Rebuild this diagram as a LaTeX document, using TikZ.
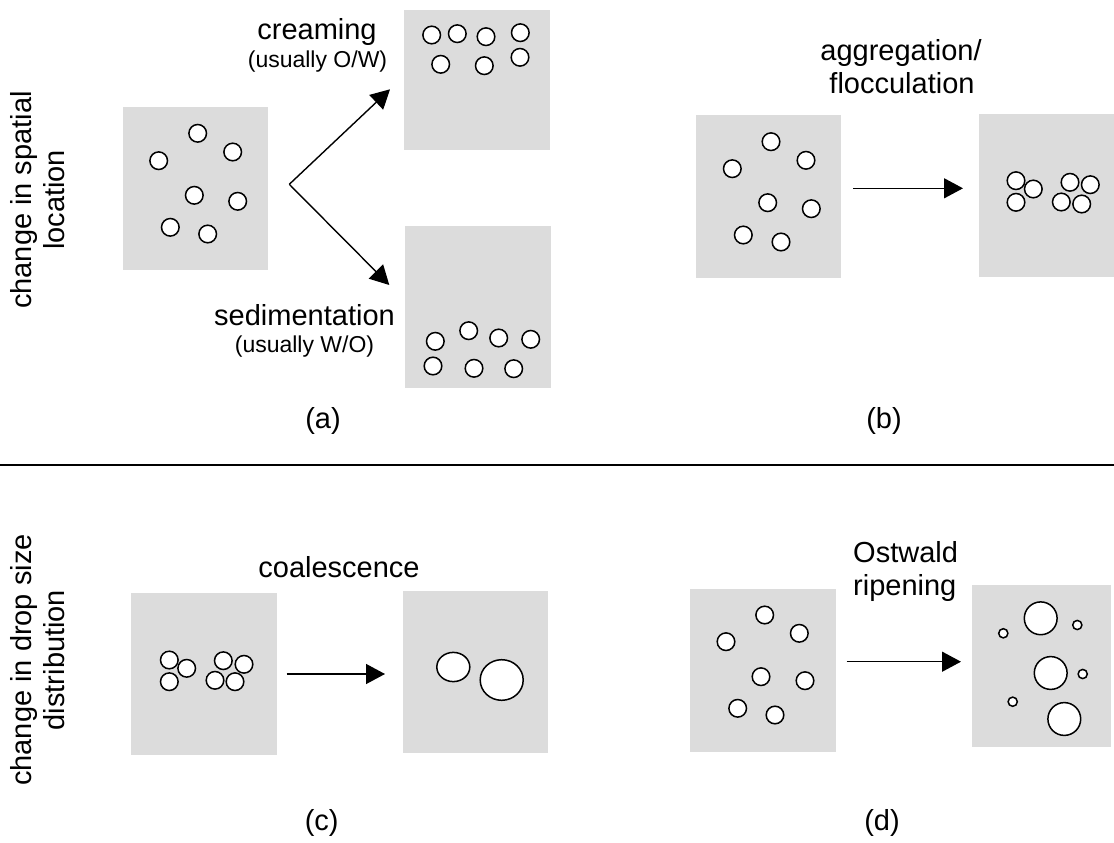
\documentclass[tikz,border=0pt]{standalone}
\usepackage{fontspec}
\setmainfont{Liberation Sans}
\usetikzlibrary{arrows.meta,shapes.geometric}
\definecolor{boxgray}{RGB}{220,220,220}
\tikzset{
  panel/.style={fill=boxgray, draw=none, inner sep=0pt, outer sep=0pt, anchor=north west},
  drop/.style={circle, draw=black, fill=white, line width=1.5pt, minimum size=17.6pt, inner sep=0pt},
  blob/.style={ellipse, draw=black, fill=white, line width=1.5pt, inner sep=0pt},
  bigtext/.style={font=\fontsize{29}{33}\selectfont, inner sep=0pt, anchor=base},
  smalltext/.style={font=\fontsize{23}{27}\selectfont, inner sep=0pt, anchor=base},
  sidetext/.style={font=\fontsize{29}{33}\selectfont, inner sep=0pt, rotate=90, align=center},
  flow/.style={line width=1.4pt, -{Triangle[length=19pt, width=20pt]}},
}
\begin{document}
\begin{tikzpicture}[x=1pt, y=-1pt]
\useasboundingbox (0,0) rectangle (1114,843);

% ---------- row labels ----------
\node[sidetext] (rowtop) at (38,200) {change in spatial\\location};
\node[sidetext] (rowbot) at (38,660) {change in drop size\\distribution};

% ---------- (a) creaming / sedimentation ----------
\node[panel, minimum width=145pt, minimum height=163pt] (a0) at (123,107) {};
\node[panel, minimum width=146pt, minimum height=140pt] (aup) at (404,10) {};
\node[panel, minimum width=146pt, minimum height=162pt] (adn) at (405,226) {};
\foreach \x/\y [count=\i] in {197.7/133.3, 232.7/152, 158.7/160.7, 194.3/195.3, 237.7/201.3, 170.3/227.3, 207.7/234}
  \node[drop] (a0d\i) at (\x,\y) {};
\foreach \x/\y [count=\i] in {431.7/35, 457.3/33.7, 486/36.7, 520.3/32.7, 440.7/64.3, 484.3/65.7, 520/57.3}
  \node[drop] (aupd\i) at (\x,\y) {};
\foreach \x/\y [count=\i] in {435.3/341.3, 468.7/330.7, 498.7/338, 530.7/339.3, 433/366, 474/368.3, 513.7/368.7}
  \node[drop] (adnd\i) at (\x,\y) {};
\coordinate (fork) at (289.3,184.3);
\coordinate (forkup) at (390,89.3);
\coordinate (forkdn) at (389.3,285);
\draw[flow] (fork) -- (forkup);
\draw[flow] (fork) -- (forkdn);
\node[bigtext] (tcream) at (317,39.3) {creaming};
\node[smalltext] (tcreamsub) at (317.5,67) {(usually O/W)};
\node[bigtext] (tsed) at (304.5,325) {sedimentation};
\node[smalltext] (tsedsub) at (304.5,352) {(usually W/O)};
\node[bigtext] (capa) at (323,428) {(a)};

% ---------- (b) aggregation / flocculation ----------
\node[panel, minimum width=145pt, minimum height=163pt] (b0) at (696.3,115.4) {};
\node[panel, minimum width=145pt, minimum height=163pt] (b1) at (979,114) {};
\foreach \x/\y [count=\i] in {771/141.7, 806/160.3, 732.3/168.7, 767.7/202.7, 811.3/208.7, 743.3/235, 781/242}
  \node[drop] (b0d\i) at (\x,\y) {};
\foreach \x/\y [count=\i] in {1016/180.7, 1033.3/189, 1016/202.3, 1070/182.3, 1090.3/184.7, 1061.3/202, 1081.7/204}
  \node[drop] (b1d\i) at (\x,\y) {};
\coordinate (bfrom) at (853.3,188.3);
\coordinate (bto) at (963,188.3);
\draw[flow] (bfrom) -- (bto);
\node[bigtext] (tagg) at (901,60) {aggregation/};
\node[bigtext] (tfloc) at (902,93.3) {flocculation};
\node[bigtext] (capb) at (884,428) {(b)};

% ---------- separator ----------
\coordinate (sepL) at (0,465);
\coordinate (sepR) at (1114,465);
\draw[line width=1.2pt] (sepL) -- (sepR);

% ---------- (c) coalescence ----------
\node[panel, minimum width=146pt, minimum height=162pt] (c0) at (131,593) {};
\node[panel, minimum width=145pt, minimum height=162pt] (c1) at (403,591) {};
\foreach \x/\y [count=\i] in {169.3/660, 186.7/668.3, 169.3/681.7, 223.3/660.7, 244/664.3, 215/680.3, 235/681.7}
  \node[drop] (c0d\i) at (\x,\y) {};
\node[blob, minimum width=33pt, minimum height=29.2pt] (c1a) at (453.3,667) {};
\node[blob, minimum width=43pt, minimum height=40.6pt] (c1b) at (501.7,680) {};
\coordinate (cfrom) at (286.7,674);
\coordinate (cto) at (385,674);
\draw[flow] (cfrom) -- (cto);
\node[bigtext] (tcoal) at (339,577.3) {coalescence};
\node[bigtext] (capc) at (321.7,830) {(c)};

% ---------- (d) Ostwald ripening ----------
\node[panel, minimum width=146pt, minimum height=163pt] (d0) at (690,589) {};
\node[panel, minimum width=139pt, minimum height=162pt] (d1) at (972,585) {};
\foreach \x/\y [count=\i] in {764.7/615, 799.3/633.3, 726/641.7, 761/676.7, 805/680.7, 737.7/708.3, 775/715}
  \node[drop] (d0d\i) at (\x,\y) {};
\foreach \x/\y [count=\i] in {1040.7/618.3, 1050.7/673, 1064.3/719}
  \node[drop, minimum size=32.8pt] (d1big\i) at (\x,\y) {};
\foreach \x/\y [count=\i] in {1077.3/625, 1003.3/633.3, 1082.7/674, 1012.7/701.7}
  \node[drop, minimum size=9.2pt] (d1sm\i) at (\x,\y) {};
\coordinate (dfrom) at (846.7,661.7);
\coordinate (dto) at (961,661.7);
\draw[flow] (dfrom) -- (dto);
\node[bigtext, anchor=base west] (tost) at (853,562) {Ostwald};
\node[bigtext, anchor=base west] (trip) at (853,595) {ripening};
\node[bigtext] (capd) at (882,830) {(d)};
\end{tikzpicture}
\end{document}
